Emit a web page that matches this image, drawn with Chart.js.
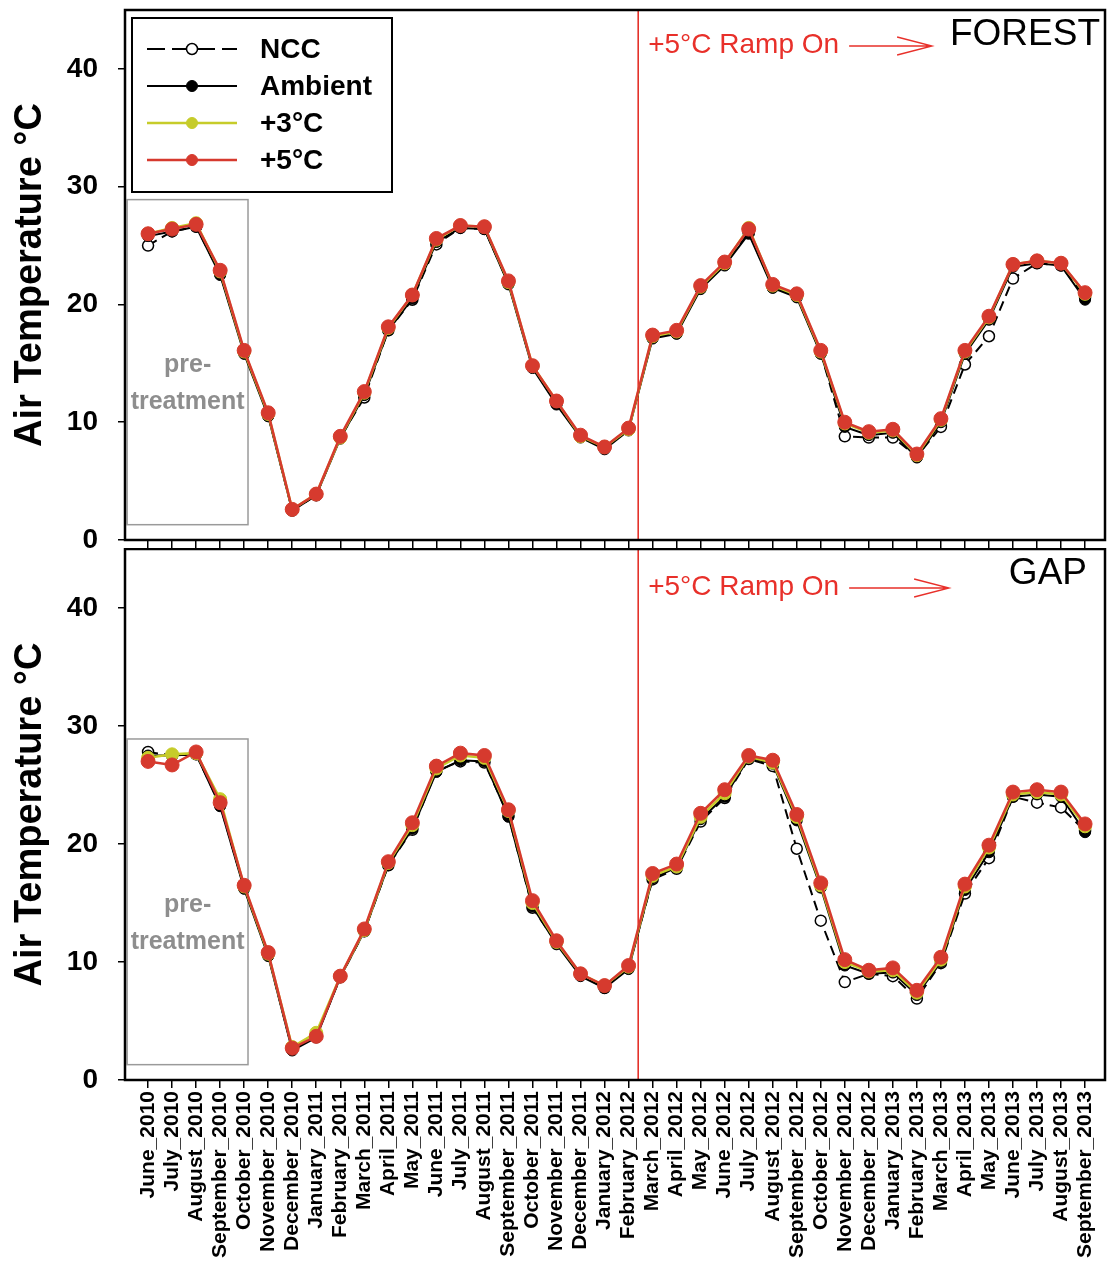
<!DOCTYPE html>
<html>
<head>
<meta charset="utf-8">
<title>Air Temperature - Forest / Gap</title>
<script src="https://cdn.jsdelivr.net/npm/chart.js"></script>
<style>
  body { margin: 0; background: #fff; }
  #wrap { position: relative; width: 1110px; height: 1266px; }
  #topBox { position: absolute; left: 0; top: 0; width: 1110px; height: 548px; }
  #botBox { position: absolute; left: 0; top: 548px; width: 1110px; height: 718px; }
</style>
</head>
<body>
<div id="wrap">
  <div id="topBox"><canvas id="forestChart" width="1110" height="548"></canvas></div>
  <div id="botBox"><canvas id="gapChart" width="1110" height="718"></canvas></div>
</div>
<script>
// month labels (x axis)
var months = [
  'June_2010', 'July_2010', 'August_2010', 'September_2010', 'October_2010', 'November_2010', 'December_2010',
  'January_2011', 'February_2011', 'March_2011', 'April_2011', 'May_2011', 'June_2011', 'July_2011',
  'August_2011', 'September_2011', 'October_2011', 'November_2011', 'December_2011',
  'January_2012', 'February_2012', 'March_2012', 'April_2012', 'May_2012', 'June_2012', 'July_2012',
  'August_2012', 'September_2012', 'October_2012', 'November_2012', 'December_2012',
  'January_2013', 'February_2013', 'March_2013', 'April_2013', 'May_2013', 'June_2013', 'July_2013',
  'August_2013', 'September_2013'
];
var yTicks = [0, 10, 20, 30, 40];

// FOREST panel
var forestNCC  = [25.0, 26.2, 26.6, 22.6, 16.0, 10.6, 2.5, 3.8, 8.7, 12.1, 17.8, 20.4, 25.1, 26.5, 26.4, 21.8, 14.7, 11.6, 8.8, 7.8,
                  9.4, 17.2, 17.6, 21.4, 23.4, 26.1, 21.5, 20.7, 15.9, 8.8, 8.7, 8.7, 7.1, 9.6, 14.9, 17.3, 22.2, 23.5, 23.3, 20.6];
var forestAmb  = [25.8, 26.2, 26.6, 22.5, 15.8, 10.5, 2.5, 3.8, 8.6, 12.3, 17.8, 20.5, 25.3, 26.5, 26.4, 21.7, 14.6, 11.5, 8.7, 7.7,
                  9.3, 17.1, 17.5, 21.3, 23.3, 26.0, 21.4, 20.6, 15.8, 9.6, 8.9, 9.1, 7.0, 10.0, 15.8, 18.7, 23.2, 23.5, 23.3, 20.4];
var forestP3   = [26.0, 26.5, 26.9, 22.8, 16.0, 10.7, 2.6, 3.9, 8.7, 12.5, 18.0, 20.8, 25.5, 26.7, 26.6, 21.9, 14.8, 11.8, 8.8, 7.9,
                  9.4, 17.3, 17.7, 21.5, 23.5, 26.5, 21.6, 20.8, 16.0, 9.9, 9.1, 9.3, 7.2, 10.2, 16.0, 18.9, 23.4, 23.7, 23.5, 20.9];
var forestP5   = [26.0, 26.4, 26.8, 22.9, 16.1, 10.8, 2.6, 3.9, 8.8, 12.6, 18.1, 20.8, 25.6, 26.7, 26.6, 22.0, 14.8, 11.8, 8.9, 7.9,
                  9.5, 17.4, 17.8, 21.6, 23.6, 26.4, 21.7, 20.9, 16.1, 10.0, 9.2, 9.4, 7.3, 10.3, 16.1, 19.0, 23.4, 23.7, 23.5, 21.0];

// GAP panel
var gapNCC  = [27.8, 27.5, 27.6, 23.3, 16.3, 10.6, 2.6, 3.7, 8.7, 12.6, 18.2, 21.2, 26.2, 27.0, 26.9, 22.4, 14.6, 11.6, 8.9, 7.8,
               9.5, 17.0, 17.9, 21.9, 23.9, 27.2, 26.6, 19.6, 13.5, 8.3, 9.0, 8.8, 6.9, 9.9, 15.8, 18.8, 24.0, 23.5, 23.1, 21.1];
var gapAmb  = [27.5, 27.5, 27.6, 23.2, 16.2, 10.5, 2.5, 3.6, 8.7, 12.6, 18.2, 21.3, 26.1, 27.1, 27.0, 22.3, 14.7, 11.5, 8.8, 7.8,
               9.4, 17.1, 18.0, 22.1, 24.0, 27.3, 26.8, 22.0, 16.3, 9.7, 9.0, 9.1, 7.2, 10.0, 16.1, 19.3, 24.0, 24.2, 24.0, 21.0];
var gapP3   = [27.3, 27.6, 27.7, 23.8, 16.4, 10.7, 2.8, 4.0, 8.8, 12.7, 18.4, 21.6, 26.4, 27.5, 27.3, 22.8, 15.0, 11.7, 9.0, 8.0,
               9.6, 17.3, 18.1, 22.3, 24.3, 27.4, 26.9, 22.3, 16.5, 10.0, 9.2, 9.3, 7.4, 10.2, 16.4, 19.7, 24.2, 24.4, 24.2, 21.5];
var gapP5   = [27.0, 26.7, 27.8, 23.5, 16.5, 10.8, 2.7, 3.7, 8.8, 12.8, 18.5, 21.8, 26.6, 27.7, 27.5, 22.9, 15.2, 11.8, 9.0, 8.0,
               9.7, 17.5, 18.3, 22.6, 24.6, 27.5, 27.1, 22.5, 16.7, 10.2, 9.3, 9.5, 7.6, 10.4, 16.6, 19.9, 24.4, 24.6, 24.4, 21.7];

// annotation positions in data units
var rampAt = 20.4;                 // ramp-on line, between Feb and Mar 2012
var preBox = [-0.87, 4.16, 1.3, 28.9];  // x0, x1, y0, y1
var preTextY = [14.85, 11.7];

var FONT = '"Liberation Sans", Arial, sans-serif';
Chart.defaults.font.family = FONT;
Chart.defaults.color = '#000';

function toPts(vals) {
  return vals.map(function(v, i) { return { x: i, y: v }; });
}

function buildDatasets(ncc, amb, p3, p5) {
  return [
    { label: 'NCC', data: toPts(ncc), borderColor: '#000', borderWidth: 2, borderDash: [10, 6],
      pointRadius: 5.5, pointBackgroundColor: '#fff', pointBorderColor: '#000', pointBorderWidth: 1.5, order: 4 },
    { label: 'Ambient', data: toPts(amb), borderColor: '#000', borderWidth: 2,
      pointRadius: 5.5, pointBackgroundColor: '#000', pointBorderColor: '#000', pointBorderWidth: 1, order: 3 },
    { label: '+3°C', data: toPts(p3), borderColor: '#c6cc2a', borderWidth: 2.5,
      pointRadius: 6.5, pointBackgroundColor: '#c6cc2a', pointBorderColor: '#c6cc2a', pointBorderWidth: 1, order: 2 },
    { label: '+5°C', data: toPts(p5), borderColor: '#d63a2e', borderWidth: 2.5,
      pointRadius: 7, pointBackgroundColor: '#d63a2e', pointBorderColor: '#d63a2e', pointBorderWidth: 1, order: 1 }
  ];
}

var decorPlugin = {
  id: 'decor',
  beforeDatasetsDraw: function(chart) {
    var ctx = chart.ctx, xs = chart.scales.x, ys = chart.scales.y, a = chart.chartArea;
    ctx.save();
    // pre-treatment box
    var bx0 = xs.getPixelForValue(preBox[0]), bx1 = xs.getPixelForValue(preBox[1]);
    var by0 = ys.getPixelForValue(preBox[3]), by1 = ys.getPixelForValue(preBox[2]);
    ctx.strokeStyle = '#9a9a9a';
    ctx.lineWidth = 1.5;
    ctx.strokeRect(bx0, by0, bx1 - bx0, by1 - by0);
    ctx.fillStyle = '#8e8e8e';
    ctx.font = 'bold 25px ' + FONT;
    ctx.textAlign = 'center';
    ctx.textBaseline = 'middle';
    var cx = (bx0 + bx1) / 2;
    ctx.fillText('pre-', cx, ys.getPixelForValue(preTextY[0]));
    ctx.fillText('treatment', cx, ys.getPixelForValue(preTextY[1]));
    // ramp line
    var rx = xs.getPixelForValue(rampAt);
    ctx.strokeStyle = '#e3241c';
    ctx.lineWidth = 1.5;
    ctx.beginPath();
    ctx.moveTo(rx, a.top);
    ctx.lineTo(rx, a.bottom);
    ctx.stroke();
    ctx.restore();
  },
  afterDraw: function(chart, args, opts) {
    var ctx = chart.ctx, xs = chart.scales.x, a = chart.chartArea;
    ctx.save();
    // frame
    ctx.strokeStyle = '#000';
    ctx.lineWidth = 2.5;
    ctx.strokeRect(a.left, a.top, a.right - a.left, a.bottom - a.top);

    // ramp text + arrow
    var rx = xs.getPixelForValue(rampAt);
    var ty = a.top + opts.rampY;
    ctx.fillStyle = '#e8302a';
    ctx.font = '28px ' + FONT;
    ctx.textAlign = 'left';
    ctx.textBaseline = 'middle';
    var txt = '+5°C Ramp On';
    ctx.fillText(txt, rx + 10, ty);
    var x0 = rx + 10 + ctx.measureText(txt).width + 10;
    var x1 = x0 + opts.arrowLen;
    ctx.strokeStyle = '#e8302a';
    ctx.lineWidth = 1.3;
    ctx.beginPath();
    ctx.moveTo(x0, ty + 1);
    ctx.lineTo(x1, ty + 1);
    ctx.moveTo(x1 - 35, ty - 8);
    ctx.lineTo(x1, ty + 1);
    ctx.lineTo(x1 - 35, ty + 10);
    ctx.stroke();

    // panel name
    ctx.fillStyle = '#000';
    ctx.font = '37px ' + FONT;
    ctx.textAlign = 'right';
    ctx.textBaseline = 'top';
    ctx.fillText(opts.name, a.right - opts.nameInset, a.top + 6);

    // legend
    if (opts.legend) {
      var lx = a.left + 7, ly = a.top + 8, lw = 260, lh = 174;
      ctx.fillStyle = '#fff';
      ctx.fillRect(lx, ly, lw, lh);
      ctx.strokeStyle = '#000';
      ctx.lineWidth = 2;
      ctx.strokeRect(lx, ly, lw, lh);
      ctx.font = 'bold 28px ' + FONT;
      ctx.textAlign = 'left';
      ctx.textBaseline = 'middle';
      chart.data.datasets.forEach(function(ds, i) {
        var ry = ly + 31 + i * 37;
        ctx.strokeStyle = ds.borderColor;
        ctx.lineWidth = ds.borderWidth;
        ctx.setLineDash(ds.borderDash ? [18, 7] : []);
        ctx.beginPath();
        ctx.moveTo(lx + 15, ry);
        ctx.lineTo(lx + 105, ry);
        ctx.stroke();
        ctx.setLineDash([]);
        ctx.beginPath();
        ctx.arc(lx + 60, ry, 5.5, 0, Math.PI * 2);
        ctx.fillStyle = ds.pointBackgroundColor;
        ctx.fill();
        ctx.strokeStyle = ds.pointBorderColor;
        ctx.lineWidth = ds.pointBorderWidth;
        ctx.stroke();
        ctx.fillStyle = '#000';
        ctx.fillText(ds.label, lx + 128, ry + 1);
      });
    }
    ctx.restore();
  }
};

function makeChart(canvasId, datasets, cfg) {
  return new Chart(document.getElementById(canvasId), {
    type: 'line',
    data: { datasets: datasets },
    plugins: [decorPlugin],
    options: {
      responsive: false,
      animation: false,
      layout: { autoPadding: false, padding: { top: cfg.padTop, right: 5, left: 0, bottom: 0 } },
      elements: { line: { tension: 0 } },
      scales: {
        x: {
          type: 'linear',
          min: -0.96,
          max: 39.83,
          afterBuildTicks: function(s) { s.ticks = months.map(function(m, i) { return { value: i }; }); },
          afterFit: function(s) {
            s.height = cfg.xHeight;
            s.paddingLeft = 0; s.paddingRight = 0;
          },
          grid: { drawOnChartArea: false, drawTicks: true, tickLength: 8, color: '#000', lineWidth: 1.5 },
          border: { display: false },
          ticks: {
            display: cfg.showLabels,
            autoSkip: false,
            maxRotation: 90,
            minRotation: 90,
            padding: 3,
            color: '#000',
            font: { size: 21, weight: 'bold' },
            callback: function(v) { return months[v]; }
          }
        },
        y: {
          min: 0,
          max: 45,
          afterBuildTicks: function(s) { s.ticks = yTicks.map(function(v) { return { value: v }; }); },
          afterFit: function(s) {
            s.width = 125;
            s.paddingTop = 0; s.paddingBottom = 0;
          },
          grid: { drawOnChartArea: false, drawTicks: true, tickLength: 7, color: '#000', lineWidth: 1.5 },
          border: { display: false },
          ticks: { color: '#000', padding: 20, font: { size: 28, weight: 'bold' } },
          title: {
            display: true,
            text: 'Air Temperature °C',
            color: '#000',
            font: { size: 38, weight: 'bold', lineHeight: 1.2 },
            padding: { top: 8, bottom: 0 }
          }
        }
      },
      plugins: {
        legend: { display: false },
        tooltip: { enabled: false },
        decor: cfg.decor
      }
    }
  });
}

makeChart('forestChart', buildDatasets(forestNCC, forestAmb, forestP3, forestP5), {
  padTop: 10, xHeight: 8, showLabels: false,
  decor: { name: 'FOREST', nameInset: 5, legend: true, rampY: 35, arrowLen: 83 }
});

makeChart('gapChart', buildDatasets(gapNCC, gapAmb, gapP3, gapP5), {
  padTop: 1, xHeight: 186, showLabels: true,
  decor: { name: 'GAP', nameInset: 18, legend: false, rampY: 38, arrowLen: 100 }
});
</script>
</body>
</html>
